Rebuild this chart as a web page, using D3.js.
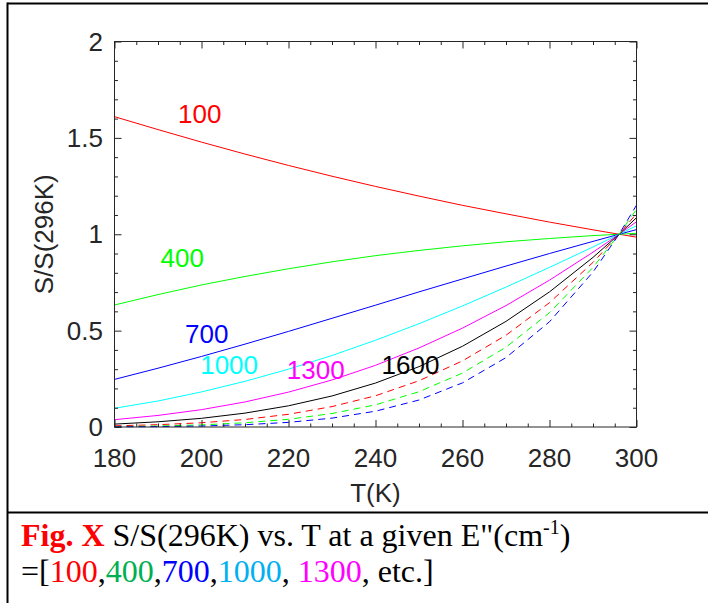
<!DOCTYPE html>
<html>
<head>
<meta charset="utf-8">
<script src="https://cdn.jsdelivr.net/npm/d3@7"></script>
<style>
  html, body { margin: 0; padding: 0; background: #fff; }
  svg { display: block; }
</style>
</head>
<body>
<div id="chart"></div>
<script>
// temperatures (K) where the ratios were plotted
var temps = [180, 190, 200, 210, 220, 230, 240, 250, 260, 270, 280, 290, 296, 300];

// S/S(296K) for each lower state energy E" (cm-1)
var ratio100  = [1.610, 1.543, 1.478, 1.416, 1.357, 1.301, 1.248, 1.198, 1.150, 1.106, 1.063, 1.023, 1, 0.985];
var ratio400  = [0.633, 0.687, 0.737, 0.781, 0.821, 0.857, 0.889, 0.916, 0.940, 0.961, 0.978, 0.993, 1, 1.005];
var ratio700  = [0.247, 0.305, 0.366, 0.430, 0.496, 0.564, 0.632, 0.701, 0.768, 0.835, 0.900, 0.963, 1, 1.024];
var ratio1000 = [0.097, 0.135, 0.182, 0.237, 0.300, 0.371, 0.450, 0.536, 0.628, 0.726, 0.828, 0.934, 1, 1.044];
var ratio1300 = [0.038, 0.060, 0.090, 0.130, 0.181, 0.244, 0.320, 0.410, 0.513, 0.630, 0.762, 0.907, 1, 1.065];
var ratio1600 = [0.015, 0.027, 0.045, 0.072, 0.110, 0.161, 0.228, 0.313, 0.419, 0.548, 0.701, 0.880, 1, 1.086];
var ratio1900 = [0.006, 0.012, 0.022, 0.039, 0.066, 0.106, 0.162, 0.240, 0.343, 0.476, 0.645, 0.854, 1, 1.107];
var ratio2200 = [0.002, 0.005, 0.011, 0.022, 0.040, 0.070, 0.115, 0.183, 0.280, 0.414, 0.593, 0.828, 1, 1.129];
var ratio2500 = [0.001, 0.002, 0.005, 0.012, 0.024, 0.046, 0.082, 0.140, 0.229, 0.360, 0.546, 0.804, 1, 1.151];

// in-plot labels: text and where they sit (T, ratio)
var labelText = ["100", "400", "700", "1000", "1300", "1600"];
var labelT    = [194.6, 190.6, 196.2, 199.7, 219.6, 241.4];
var labelV    = [1.579, 0.832, 0.434, 0.273, 0.247, 0.275];

var xTicks = [180, 200, 220, 240, 260, 280, 300];
var yTicks = [0, 0.5, 1, 1.5, 2];

var series = [
  {vals: ratio100,  color: "#ff0000", dash: null},
  {vals: ratio400,  color: "#00ff00", dash: null},
  {vals: ratio700,  color: "#0000ff", dash: null},
  {vals: ratio1000, color: "#00ffff", dash: null},
  {vals: ratio1300, color: "#ff00ff", dash: null},
  {vals: ratio1600, color: "#000000", dash: null},
  {vals: ratio1900, color: "#ff0000", dash: "7,5"},
  {vals: ratio2200, color: "#00ff00", dash: "7,5"},
  {vals: ratio2500, color: "#0000ff", dash: "7,5"}
];
var labelColors = ["#ff0000", "#00ff00", "#0000ff", "#00ffff", "#ff00ff", "#000000"];

var W = 708, H = 603;
var plotL = 114.5, plotR = 636.5, plotT = 41.5, plotB = 427;
var axisColor = "#262626";
var sans = "'Liberation Sans', Arial, sans-serif";
var serif = "'Liberation Serif', 'Times New Roman', serif";

var svg = d3.select("#chart").append("svg")
    .attr("width", W)
    .attr("height", H);

svg.append("rect").attr("width", W).attr("height", H).attr("fill", "#fff");

var x = d3.scaleLinear().domain([180, 300]).range([plotL, plotR]);
var y = d3.scaleLinear().domain([0, 2]).range([plotB, plotT]);

// outer frame of the figure + caption separator
svg.append("line").attr("x1", 7.5).attr("x2", W).attr("y1", 3.5).attr("y2", 3.5)
    .attr("stroke", "#000").attr("stroke-width", 2);
svg.append("line").attr("x1", 7.5).attr("x2", 7.5).attr("y1", 2.5).attr("y2", H)
    .attr("stroke", "#000").attr("stroke-width", 2);
svg.append("line").attr("x1", 7.5).attr("x2", W).attr("y1", 512.5).attr("y2", 512.5)
    .attr("stroke", "#000").attr("stroke-width", 2);

// data lines
var line = d3.line()
    .x(function(d, i) { return x(temps[i]); })
    .y(function(d) { return y(d); });

svg.append("g").selectAll("path")
    .data(series)
  .enter().append("path")
    .attr("d", function(d) { return line(d.vals); })
    .attr("fill", "none")
    .attr("stroke", function(d) { return d.color; })
    .attr("stroke-width", 1)
    .attr("stroke-dasharray", function(d) { return d.dash; });

// axes with inward ticks on all four sides
function minorX() { return d3.range(180, 301, 5).filter(function(v) { return v % 20 !== 0; }); }
function minorY() { return d3.range(0, 21, 1).map(function(v) { return v / 10; }).filter(function(v) { return Math.round(v * 10) % 5 !== 0; }); }

function styleAxis(g) {
  g.select(".domain").remove();
  g.selectAll("line").attr("stroke", axisColor);
  g.selectAll("text").remove();
}

svg.append("g").attr("transform", "translate(0," + plotB + ")")
    .call(d3.axisTop(x).tickValues(xTicks).tickSize(7)).call(styleAxis);
svg.append("g").attr("transform", "translate(0," + plotB + ")")
    .call(d3.axisTop(x).tickValues(minorX()).tickSize(3.5)).call(styleAxis);
svg.append("g").attr("transform", "translate(0," + plotT + ")")
    .call(d3.axisBottom(x).tickValues(xTicks).tickSize(7)).call(styleAxis);
svg.append("g").attr("transform", "translate(0," + plotT + ")")
    .call(d3.axisBottom(x).tickValues(minorX()).tickSize(3.5)).call(styleAxis);
svg.append("g").attr("transform", "translate(" + plotL + ",0)")
    .call(d3.axisRight(y).tickValues(yTicks).tickSize(7)).call(styleAxis);
svg.append("g").attr("transform", "translate(" + plotL + ",0)")
    .call(d3.axisRight(y).tickValues(minorY()).tickSize(3.5)).call(styleAxis);
svg.append("g").attr("transform", "translate(" + plotR + ",0)")
    .call(d3.axisLeft(y).tickValues(yTicks).tickSize(7)).call(styleAxis);
svg.append("g").attr("transform", "translate(" + plotR + ",0)")
    .call(d3.axisLeft(y).tickValues(minorY()).tickSize(3.5)).call(styleAxis);

svg.append("rect")
    .attr("x", plotL).attr("y", plotT)
    .attr("width", plotR - plotL).attr("height", plotB - plotT)
    .attr("fill", "none").attr("stroke", axisColor).attr("stroke-width", 1);

// tick labels
svg.append("g").selectAll("text")
    .data(xTicks)
  .enter().append("text")
    .attr("x", function(d) { return x(d); })
    .attr("y", 467)
    .attr("text-anchor", "middle")
    .attr("font-family", sans).attr("font-size", 26).attr("fill", axisColor)
    .text(function(d) { return d; });

svg.append("g").selectAll("text")
    .data(yTicks)
  .enter().append("text")
    .attr("x", 103)
    .attr("y", function(d) { return y(d) + 9; })
    .attr("text-anchor", "end")
    .attr("font-family", sans).attr("font-size", 26).attr("fill", axisColor)
    .text(function(d) { return d; });

// axis titles
svg.append("text")
    .attr("x", (plotL + plotR) / 2).attr("y", 502)
    .attr("text-anchor", "middle")
    .attr("font-family", sans).attr("font-size", 26).attr("fill", axisColor)
    .text("T(K)");

svg.append("text")
    .attr("transform", "translate(53," + ((plotT + plotB) / 2) + ") rotate(-90)")
    .attr("text-anchor", "middle")
    .attr("font-family", sans).attr("font-size", 26).attr("fill", axisColor)
    .text("S/S(296K)");

// curve labels
svg.append("g").selectAll("text")
    .data(labelText)
  .enter().append("text")
    .attr("x", function(d, i) { return x(labelT[i]); })
    .attr("y", function(d, i) { return y(labelV[i]); })
    .attr("font-family", sans).attr("font-size", 26)
    .attr("fill", function(d, i) { return labelColors[i]; })
    .text(function(d) { return d; });

// caption
var cap1 = svg.append("text")
    .attr("x", 21).attr("y", 546)
    .attr("font-family", serif).attr("font-size", 32).attr("fill", "#000");
cap1.append("tspan").attr("font-weight", "bold").attr("fill", "#ff0000").text("Fig. X");
cap1.append("tspan").text(" S/S(296K) vs. T at a given E\"(cm");
cap1.append("tspan").attr("font-size", 20).attr("dy", -12).text("-1");
cap1.append("tspan").attr("dy", 12).text(")");

var capParts = [
  {t: "=[", c: "#000"}, {t: "100", c: "#ff0000"}, {t: ",", c: "#000"},
  {t: "400", c: "#00b050"}, {t: ",", c: "#000"}, {t: "700", c: "#0000ff"},
  {t: ",", c: "#000"}, {t: "1000", c: "#00b0f0"}, {t: ", ", c: "#000"},
  {t: "1300", c: "#ff00ff"}, {t: ", etc.]", c: "#000"}
];
var cap2 = svg.append("text")
    .attr("x", 21).attr("y", 582)
    .attr("font-family", serif).attr("font-size", 32)
    .attr("xml:space", "preserve");
capParts.forEach(function(p) {
  cap2.append("tspan").attr("fill", p.c).text(p.t);
});
</script>
</body>
</html>
